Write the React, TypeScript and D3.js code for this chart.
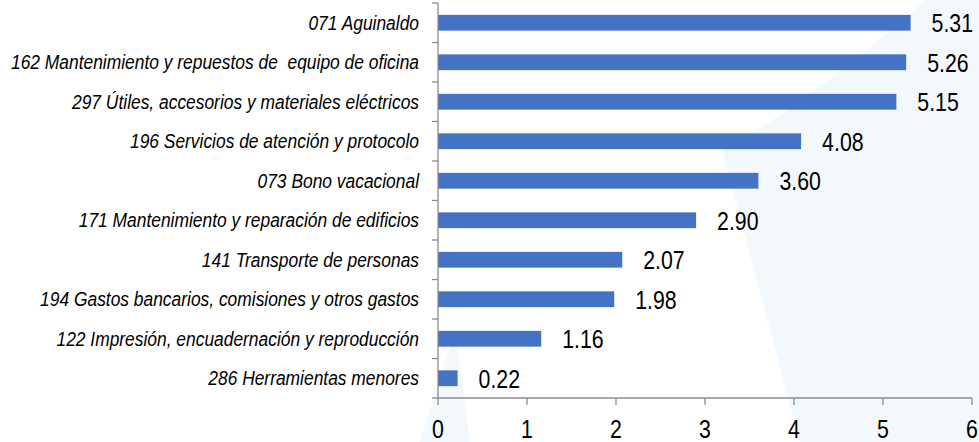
import React from "react";
import * as d3 from "d3";

const categories = [
  "071 Aguinaldo",
  "162 Mantenimiento y repuestos de  equipo de oficina",
  "297 Útiles, accesorios y materiales eléctricos",
  "196 Servicios de atención y protocolo",
  "073 Bono vacacional",
  "171 Mantenimiento y reparación de edificios",
  "141 Transporte de personas",
  "194 Gastos bancarios, comisiones y otros gastos",
  "122 Impresión, encuadernación y reproducción",
  "286 Herramientas menores",
];
const values = [5.31, 5.26, 5.15, 4.08, 3.6, 2.9, 2.07, 1.98, 1.16, 0.22];
const xTicks = [0, 1, 2, 3, 4, 5, 6];

const W = 979;
const H = 442;
const FONT = "'Liberation Sans', Arial, sans-serif";
const SX = 0.82;
const SX_CAT = 0.87;

export default function App() {
  const x = d3.scaleLinear().domain([0, 6]).range([438, 972]);
  const y = d3.scaleBand<string>().domain(categories).range([3, 398]).paddingInner(0.6).paddingOuter(0.3);
  const yb = d3.scaleBand<string>().domain(categories).range([3, 398]);
  const axisColor = "#8c8c8c";
  return (
    <svg width={W} height={H} style={{ position: "absolute", left: 0, top: 0, background: "#fff" }}>
      <g fill="#f3f8fd">
        <path d="M926,0 L979,0 L979,442 L800,442 L722,150 Q800,110 926,0 Z" />
        <path d="M420,442 L470,442 L455,330 Z" />
      </g>
      {/* bars */}
      {categories.map((c, i) => (
        <rect key={c} x={x(0)} y={y(c)!} width={x(values[i]) - x(0)} height={y.bandwidth()} fill="#4472C4" />
      ))}
      {/* value labels */}
      {categories.map((c, i) => (
        <text
          key={"v" + c}
          transform={`translate(${x(values[i]) + 21},${y(c)! + y.bandwidth() / 2}) scale(${SX},1)`}
          dy="0.36em"
          fontFamily={FONT}
          fontSize={26}
          fill="#000"
        >
          {values[i].toFixed(2)}
        </text>
      ))}
      {/* y axis */}
      <line x1={x(0)} x2={x(0)} y1={3} y2={398} stroke={axisColor} strokeWidth={1.3} />
      {categories.map((c) => (
        <line key={"t" + c} x1={x(0) - 6} x2={x(0)} y1={yb(c)!} y2={yb(c)!} stroke={axisColor} strokeWidth={1.3} />
      ))}
      <line x1={x(0) - 6} x2={x(0)} y1={398} y2={398} stroke={axisColor} strokeWidth={1.3} />
      {categories.map((c) => (
        <text
          key={"l" + c}
          transform={`translate(419,${yb(c)! + yb.bandwidth() / 2}) scale(${SX_CAT},1)`}
          dy="0.35em"
          textAnchor="end"
          fontFamily={FONT}
          fontStyle="italic"
          fontSize={20}
          fill="#000"
          style={{ whiteSpace: "pre" }}
        >
          {c}
        </text>
      ))}
      {/* x axis */}
      <line x1={x(0)} x2={x(6)} y1={398} y2={398} stroke={axisColor} strokeWidth={1.3} />
      {xTicks.map((t) => (
        <g key={"x" + t}>
          <line x1={x(t)} x2={x(t)} y1={398} y2={405} stroke={axisColor} strokeWidth={1.3} />
          <text
            transform={`translate(${x(t)},438) scale(${SX},1)`}
            textAnchor="middle"
            fontFamily={FONT}
            fontSize={26}
            fill="#000"
          >
            {t}
          </text>
        </g>
      ))}
    </svg>
  );
}
